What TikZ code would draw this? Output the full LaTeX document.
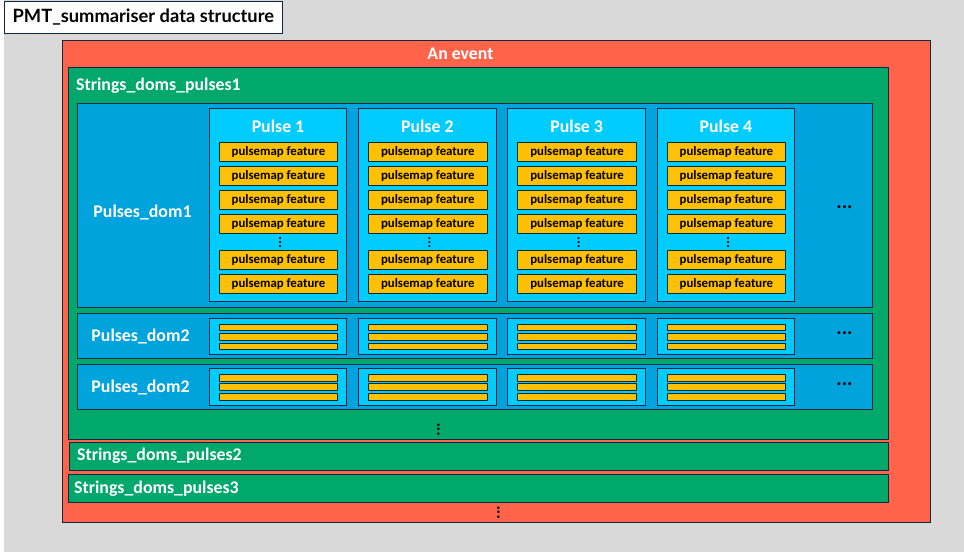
\documentclass[tikz,border=0pt]{standalone}
\usepackage{fontspec}
\setmainfont{Carlito}
\newfontfamily\titlefont{Lato}
\definecolor{gbg}{HTML}{D9D9D9}
\definecolor{evred}{HTML}{FF644A}
\definecolor{sgreen}{HTML}{00A86B}
\definecolor{dblue}{HTML}{00A3DB}
\definecolor{lblue}{HTML}{00CCFF}
\definecolor{orng}{HTML}{FFC000}
\definecolor{bord}{HTML}{0E2841}
\tikzset{
  bx/.style={draw=bord, line width=0.9pt, inner sep=0pt, outer sep=0pt, anchor=north west},
  lbl/.style={text=white, font=\fontsize{17.8}{20}\selectfont\bfseries, inner sep=0pt},
  feat/.style={fill=orng, font=\fontsize{12.8}{14}\selectfont\bfseries, text=black},
  hdots/.style={text=black, font=\fontsize{20}{20}\selectfont\bfseries, inner sep=0pt},
  vdots/.style={text=black, font=\fontsize{17}{17}\selectfont\bfseries, inner sep=0pt, rotate=90},
  fdots/.style={text=black, font=\fontsize{14}{14}\selectfont\bfseries, inner sep=0pt, rotate=90},
}
\newcommand{\rbox}[6][]{\node[bx,#1,minimum width={((#4)-(#3))*1pt},minimum height={((#6)-(#5))*1pt}] (#2) at (#3,#5) {};}
\newcommand{\tbox}[7][]{\node[bx,#1,minimum width={((#4)-(#3))*1pt},minimum height={((#6)-(#5))*1pt}] (#2) at (#3,#5) {#7};}
\begin{document}
\begin{tikzpicture}[x=1pt,y=-1pt]
\useasboundingbox (0,0) rectangle (964,552);
\fill[gbg] (4,0) rectangle (964,552);
% title
\tbox[fill=white, font=\titlefont\fontsize{18.3}{20}\selectfont\bfseries]{title}{4}{282.7}{1.5}{33.3}{PMT\_summariser data structure}
% event
\rbox[fill=evred]{event}{62}{930}{40}{522}
\node[lbl] (evlbl) at (460.5,54) {An event};
% strings
\rbox[fill=sgreen]{sdp1}{68.3}{888}{67.3}{439}
\node[lbl, anchor=west] (sdp1lbl) at (76,86) {Strings\_doms\_pulses1};
\rbox[fill=sgreen]{sdp2}{69}{888}{442.3}{470}
\node[lbl, anchor=west] (sdp2lbl) at (77,456) {Strings\_doms\_pulses2};
\rbox[fill=sgreen]{sdp3}{68.3}{888}{474.3}{502}
\node[lbl, anchor=west] (sdp3lbl) at (74,489) {Strings\_doms\_pulses3};
% doms
\rbox[fill=dblue]{dom1}{77.3}{872}{103}{307.3}
\node[lbl] (dom1lbl) at (142.5,212) {Pulses\_dom1};
\rbox[fill=dblue]{dom2}{77.3}{872}{313.3}{358.3}
\node[lbl] (dom2lbl) at (140.5,336) {Pulses\_dom2};
\rbox[fill=dblue]{dom3}{77.3}{872}{364}{409.3}
\node[lbl] (dom3lbl) at (140.5,387) {Pulses\_dom2};
% horizontal dots
\node[hdots] (hd1) at (844.5,207) {...};
\node[hdots] (hd2) at (844.5,333.3) {...};
\node[hdots] (hd3) at (844.5,383.7) {...};
% vertical dots
\node[vdots] (vd1) at (438.5,429.3) {...};
\node[vdots] (vd2) at (498.5,512.3) {...};
% pulses
\foreach \i in {1,...,4}{
  \pgfmathsetmacro\px{209.3+149.3*(\i-1)}
  \pgfmathsetmacro\pxr{\px+137.4}
  \pgfmathsetmacro\fx{\px+10}
  \pgfmathsetmacro\fxr{\px+128.4}
  \pgfmathsetmacro\pc{\px+68.7}
  \rbox[fill=lblue]{p\i}{\px}{\pxr}{108.3}{301.7}
  \node[lbl] (pt\i) at (\pc,126) {Pulse \i};
  \foreach \y [count=\k] in {142.3,166.3,190.3,214.3,250.3,274.3}{
    \tbox[feat]{f\i\k}{\fx}{\fxr}{\y}{\y+19.4}{pulsemap feature}
  }
  \node[fdots] (fd\i) at (\pc+2.2,242.7) {...};
  \rbox[fill=lblue]{q\i}{\px}{\pxr}{318}{354.3}
  \foreach \y [count=\k] in {324.3,333.8,343.3}{
    \rbox[fill=orng]{qb\i\k}{\fx}{\fxr}{\y}{\y+6.6}
  }
  \rbox[fill=lblue]{r\i}{\px}{\pxr}{368.3}{405.3}
  \foreach \y [count=\k] in {374,383.8,393.7}{
    \rbox[fill=orng]{rb\i\k}{\fx}{\fxr}{\y}{\y+7}
  }
}
\end{tikzpicture}
\end{document}
